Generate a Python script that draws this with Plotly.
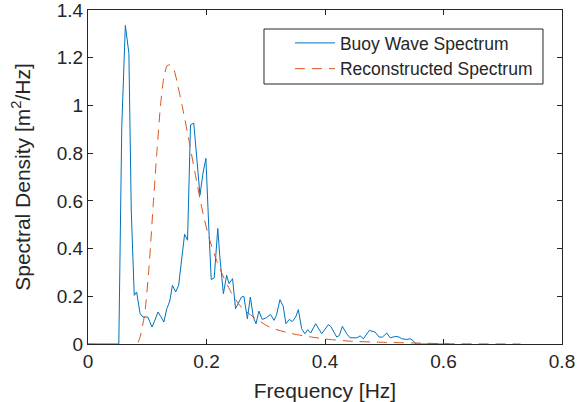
import plotly.graph_objects as go

# Buoy wave spectrum
buoy_freq = [0.0, 0.052, 0.057, 0.063, 0.069, 0.073, 0.078, 0.082, 0.088, 0.093,
             0.101, 0.108, 0.113, 0.118, 0.123, 0.128, 0.133, 0.138, 0.1425, 0.148,
             0.153, 0.159, 0.163, 0.168, 0.173, 0.1785, 0.183, 0.189, 0.194, 0.199,
             0.204, 0.208, 0.213, 0.219, 0.2225, 0.2285, 0.234, 0.238, 0.244, 0.249,
             0.254, 0.259, 0.263, 0.269, 0.274, 0.279, 0.2835, 0.2885, 0.294, 0.301,
             0.308, 0.314, 0.318, 0.324, 0.3295, 0.334, 0.3397, 0.3447, 0.3505, 0.355,
             0.3606, 0.3662, 0.3707, 0.3758, 0.3843, 0.3944, 0.4056, 0.4096, 0.4198, 0.4242,
             0.4293, 0.4367, 0.4423, 0.4536, 0.4592, 0.4648, 0.4749, 0.4845, 0.4913, 0.4969,
             0.5043, 0.5099, 0.5195, 0.5251, 0.5296, 0.5381, 0.5437, 0.5483, 0.5533, 0.61]
buoy_psd = [0.0, 0.0, 0.911, 1.335, 1.219, 0.561, 0.204, 0.218, 0.127, 0.113,
            0.113, 0.071, 0.10, 0.134, 0.115, 0.092, 0.148, 0.18, 0.246, 0.218,
            0.246, 0.38, 0.46, 0.435, 0.918, 0.926, 0.792, 0.624, 0.715, 0.778,
            0.48, 0.27, 0.277, 0.484, 0.365, 0.211, 0.288, 0.253, 0.274, 0.148,
            0.172, 0.197, 0.2, 0.106, 0.197, 0.113, 0.085, 0.138, 0.103, 0.11,
            0.124, 0.099, 0.12, 0.186, 0.158, 0.085, 0.103, 0.094, 0.113, 0.144,
            0.064, 0.043, 0.06, 0.046, 0.085, 0.043, 0.081, 0.074, 0.029, 0.036,
            0.074, 0.043, 0.026, 0.026, 0.034, 0.022, 0.057, 0.05, 0.029, 0.029,
            0.046, 0.026, 0.032, 0.029, 0.022, 0.019, 0.022, 0.015, 0.0, 0.0]

# Reconstructed spectrum
recon_freq = [0.0, 0.082, 0.087, 0.0957, 0.103, 0.1098, 0.1165, 0.1222, 0.1278, 0.1334,
              0.138, 0.1447, 0.152, 0.1588, 0.1718, 0.1802, 0.1943, 0.2056, 0.2169, 0.228,
              0.2423, 0.2591, 0.2788, 0.307, 0.3408, 0.3746, 0.4085, 0.4423, 0.4986, 0.555,
              0.61, 0.73]
recon_psd = [0.0, 0.0, 0.022, 0.127, 0.323, 0.575, 0.813, 0.995, 1.114, 1.166,
             1.17, 1.152, 1.079, 1.0, 0.835, 0.722, 0.545, 0.435, 0.351, 0.285,
             0.213, 0.153, 0.114, 0.07, 0.045, 0.03, 0.019, 0.012, 0.007, 0.004,
             0.001, 0.0]

x_ticks = [0, 0.2, 0.4, 0.6, 0.8]
x_labels = ["0", "0.2", "0.4", "0.6", "0.8"]
y_ticks = [0, 0.2, 0.4, 0.6, 0.8, 1.0, 1.2, 1.4]
y_labels = ["0", "0.2", "0.4", "0.6", "0.8", "1", "1.2", "1.4"]

FONT = "Arial, Liberation Sans, Helvetica, sans-serif"

fig = go.Figure()
fig.add_trace(go.Scatter(x=buoy_freq, y=buoy_psd, mode="lines",
                         name="Buoy Wave Spectrum",
                         line=dict(color="#0072BD", width=1)))
fig.add_trace(go.Scatter(x=recon_freq, y=recon_psd, mode="lines",
                         name="Reconstructed Spectrum",
                         line=dict(color="#D95319", width=1, dash="10px,7px",
                                   shape="spline", smoothing=0.6)))

axis_common = dict(showgrid=False, zeroline=False, showline=True, linecolor="#262626",
                   linewidth=1, mirror="ticks", ticks="inside", ticklen=5, automargin=False,
                   ticklabeloverflow="allow",
                   tickcolor="#262626", tickfont=dict(size=19, color="#262626", family=FONT))

# legend frame (MATLAB-style box, wider than Plotly's own legend)
fig.add_shape(type="rect", xref="paper", yref="paper",
              x0=0.3713, x1=0.9599, y0=0.7784, y1=0.9431,
              line=dict(color="#262626", width=1), fillcolor="white", layer="below")

fig.update_layout(
    width=582, height=402,
    margin=dict(l=88, r=20, t=10, b=58),
    paper_bgcolor="white", plot_bgcolor="white",
    font=dict(family=FONT, color="#262626"),
    xaxis=dict(range=[0, 0.8], tickvals=x_ticks, ticktext=x_labels,
               title=dict(text="Frequency [Hz]", font=dict(size=21), standoff=13),
               **axis_common),
    yaxis=dict(range=[0, 1.4], tickvals=y_ticks, ticktext=y_labels,
               title=dict(text="Spectral Density [m<sup>2</sup>/Hz]", font=dict(size=21), standoff=20),
               **axis_common),
    legend=dict(x=0.426, y=0.955, xanchor="left", yanchor="top",
                bgcolor="rgba(0,0,0,0)", borderwidth=0,
                font=dict(size=17.5, color="#262626", family=FONT),
                tracegroupgap=0, itemwidth=40),
    showlegend=True,
)

fig.write_html("out.html", config={"displayModeBar": False},
               post_script="document.body.style.margin='0';document.body.style.overflow='hidden';")
